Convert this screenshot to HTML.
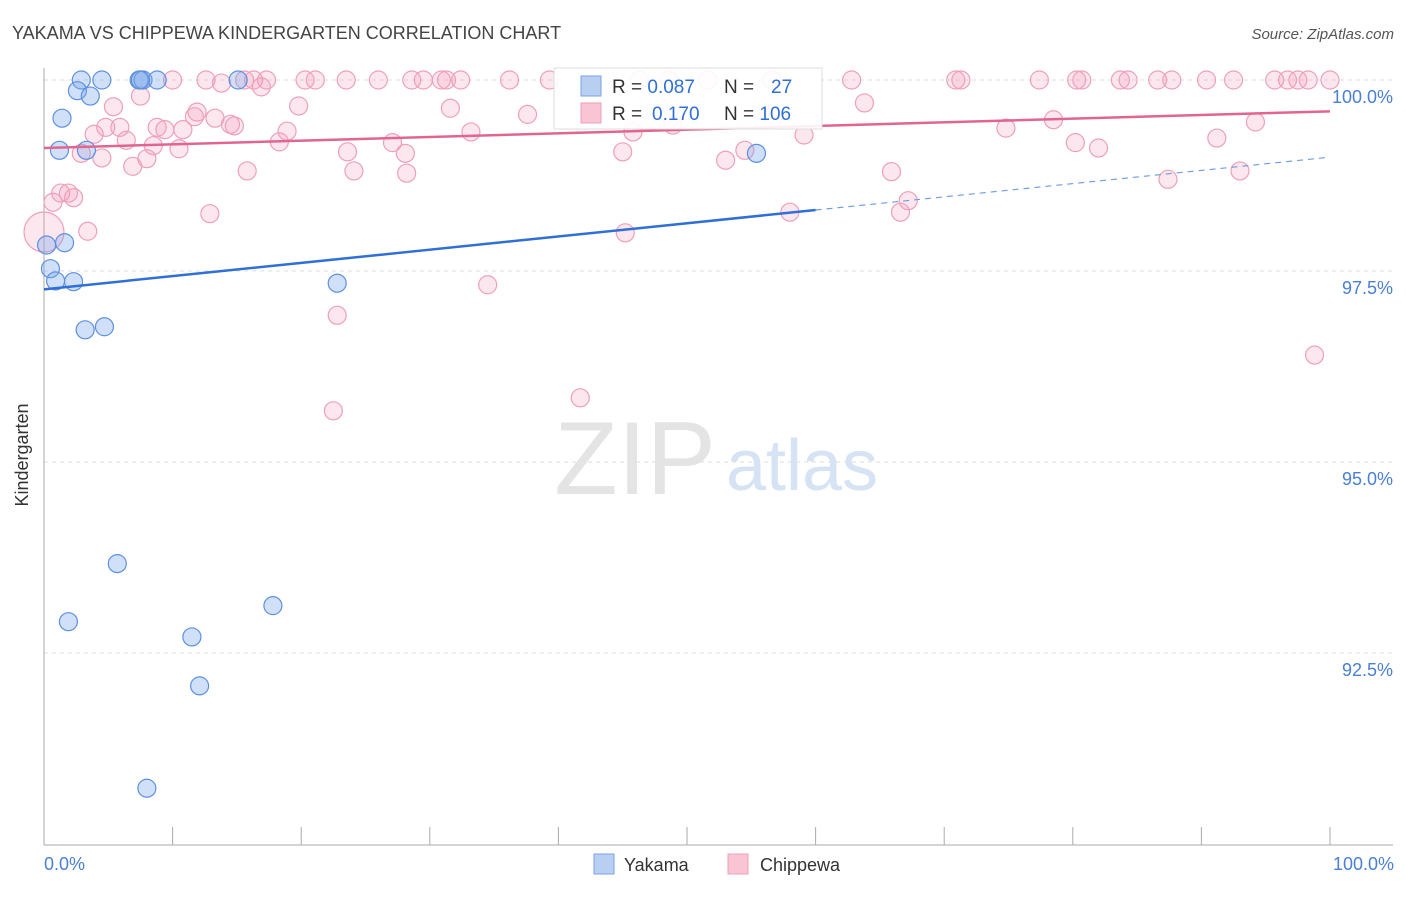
<!DOCTYPE html>
<html><head><meta charset="utf-8"><style>
body{margin:0;background:#fff;font-family:"Liberation Sans",sans-serif;}
svg text{font-family:"Liberation Sans",sans-serif;}
</style></head><body>
<svg width="1406" height="892" viewBox="0 0 1406 892">
<text x="12" y="39" font-size="18" fill="#444">YAKAMA VS CHIPPEWA KINDERGARTEN CORRELATION CHART</text>
<text x="1394" y="39" font-size="15" fill="#555" font-style="italic" text-anchor="end">Source: ZipAtlas.com</text>
<g id="grid"></g>
<text x="635" y="494" font-size="104" font-family="Liberation Serif,serif" fill="#e4e4e4" text-anchor="middle">ZIP</text>
<text x="802" y="490" font-size="72" fill="#d6e3f4" text-anchor="middle">atlas</text>
<g id="axes"></g>
<g id="pts"></g>
<g id="trends"></g>
<text x="28" y="455" font-size="18" fill="#333" text-anchor="middle" transform="rotate(-90 28 455)">Kindergarten</text>
<text x="44" y="870" font-size="18" fill="#4a7fd4">0.0%</text>
<text x="1394" y="870" font-size="18" fill="#4a7fd4" text-anchor="end">100.0%</text>
<g>
<rect x="554" y="68" width="268" height="61" fill="#fff" fill-opacity="0.9" stroke="#ddd"/>
<rect x="581" y="76" width="20" height="20" fill="#b8cff2" stroke="#7aa3e5"/>
<rect x="581" y="103" width="20" height="20" fill="#f9c4d4" stroke="#ee9fb8"/>
<text x="612" y="93" font-size="19" fill="#333">R = <tspan fill="#2f6fd6">0.087</tspan></text>
<text x="724" y="93" font-size="19" fill="#333">N = <tspan fill="#2f6fd6" x="771">27</tspan></text>
<text x="612" y="120" font-size="19" fill="#333">R = <tspan fill="#2f6fd6" x="652">0.170</tspan></text>
<text x="724" y="120" font-size="19" fill="#333">N = <tspan fill="#2f6fd6">106</tspan></text>
</g>
<g>
<rect x="594" y="854" width="20" height="20" fill="#b8cff2" stroke="#7aa3e5"/>
<text x="624" y="871" font-size="18" fill="#333">Yakama</text>
<text x="760" y="871" font-size="18" fill="#333">Chippewa</text>
<rect x="728" y="854" width="20" height="20" fill="#f9c4d4" stroke="#ee9fb8"/>
</g>
</svg>
<script>
const yTicks=[100,97.5,95,92.5];
const yTickLabels=["100.0%","97.5%","95.0%","92.5%"];
const xTicks=[10,20,30,40,50,60,70,80,90,100];
const yakamaX=[2.9,4.5,7.4,7.7,8.8,15.1,2.6,3.6,1.4,1.2,3.3,55.4,1.6,0.2,0.5,0.9,2.3,22.8,3.2,4.7,5.7,1.9,17.8,11.5,12.1,8.0,7.5];
const yakamaY=[100,100,100,100,100,100,99.86,99.79,99.5,99.08,99.08,99.04,97.87,97.84,97.53,97.37,97.36,97.34,96.73,96.77,93.67,92.91,93.12,92.71,92.07,90.73,100];
const chipX=[13.8,16.9,7.5,5.4,19.8,31.6,63.8,11.9,11.7,13.3,37.6,4.8,5.9,8.8,14.5,14.8,3.9,9.4,10.8,18.9,33.2,45.8,48.9,74.8,78.5,94.2,6.4,18.3,27.1,59.1,91.2,80.2,8.5,10.5,2.9,23.6,28.1,45.0,54.5,82.0,4.5,8.0,53.0,6.9,15.8,24.1,28.2,65.9,93.0,87.4,67.2,1.3,1.9,2.3,0.7,58.0,66.6,12.9,3.4,45.2,34.5,22.8,98.8,41.7,22.5,
10.0,12.6,15.6,16.3,17.3,20.3,21.1,23.5,26.0,28.6,29.5,30.9,31.3,32.4,36.2,39.3,46.3,48.6,51.6,56.6,62.8,70.9,71.3,77.4,80.3,80.7,83.7,84.3,86.6,87.7,90.4,92.5,95.7,96.7,97.5,98.3,100,0];
const chipY=[99.96,99.91,99.79,99.65,99.66,99.63,99.7,99.58,99.52,99.5,99.55,99.38,99.38,99.38,99.42,99.4,99.29,99.35,99.35,99.33,99.32,99.32,99.41,99.37,99.48,99.45,99.21,99.19,99.18,99.28,99.24,99.18,99.14,99.1,99.04,99.06,99.04,99.06,99.08,99.11,98.98,98.97,98.95,98.87,98.81,98.81,98.78,98.8,98.81,98.7,98.42,98.52,98.52,98.46,98.4,98.27,98.27,98.25,98.02,98.0,97.32,96.92,96.4,95.84,95.67,
100,100,100,100,100,100,100,100,100,100,100,100,100,100,100,100,100,100,100,100,100,100,100,100,100,100,100,100,100,100,100,100,100,100,100,100,100,98.01];
const yakamaTrend=[97.26,98.99];
const chipTrend=[99.11,99.59];
const X0=44,X1=1330,YT=80,PX=76.4;
const sx=v=>X0+(X1-X0)*v/100;
const sy=v=>YT+(100-v)*PX;
const NS='http://www.w3.org/2000/svg';
function mk(tag,attrs,parent){const e=document.createElementNS(NS,tag);for(const k in attrs)e.setAttribute(k,attrs[k]);parent.appendChild(e);return e;}
const grid=document.getElementById('grid'),axes=document.getElementById('axes');
yTicks.forEach((t,i)=>{
 const l=mk('line',{x1:X0,x2:1393,y1:sy(t),y2:sy(t),stroke:'#ddd','stroke-dasharray':'4,4'},grid);
 
 
 const tx=mk('text',{x:1393,y:sy(t)+23,'font-size':18,fill:'#4a7fd4','text-anchor':'end'},axes);
 tx.textContent=yTickLabels[i];
 
 
});
const ya=mk('line',{x1:X0,x2:X0,y1:68,y2:845,stroke:'#aaa'},axes);


const xa=mk('line',{x1:X0,x2:1393,y1:845,y2:845,stroke:'#aaa'},axes);


xTicks.forEach(t=>{
 const l=mk('line',{x1:sx(t),x2:sx(t),y1:827,y2:845,stroke:'#aaa'},axes);
 
 
});
const pts=document.getElementById('pts');
chipX.forEach((x,i)=>{
 const big=(i===chipX.length-1);
 const c=mk('circle',{cx:sx(x),cy:sy(chipY[i]),r:big?20:9,fill:'rgba(244,160,186,0.25)',stroke:'#eea0b9','stroke-width':1.2},pts);
 
 
});
yakamaX.forEach((x,i)=>{
 const c=mk('circle',{cx:sx(x),cy:sy(yakamaY[i]),r:9,fill:'rgba(120,165,235,0.35)',stroke:'#5e90e0','stroke-width':1.2},pts);
 
 
});
const tr=document.getElementById('trends');
const ty=x=>yakamaTrend[0]+(yakamaTrend[1]-yakamaTrend[0])*x/100;
const t1=mk('line',{x1:sx(0),y1:sy(ty(0)),x2:sx(60),y2:sy(ty(60)),stroke:'#2f6fd6','stroke-width':2.5},tr);


const t2=mk('line',{x1:sx(60),y1:sy(ty(60)),x2:sx(100),y2:sy(ty(100)),stroke:'#6d9be0','stroke-width':1.2,'stroke-dasharray':'6,5'},tr);


const t3=mk('line',{x1:sx(0),y1:sy(chipTrend[0]),x2:sx(100),y2:sy(chipTrend[1]),stroke:'#e2658f','stroke-width':2.5},tr);


</script>
</body></html>
